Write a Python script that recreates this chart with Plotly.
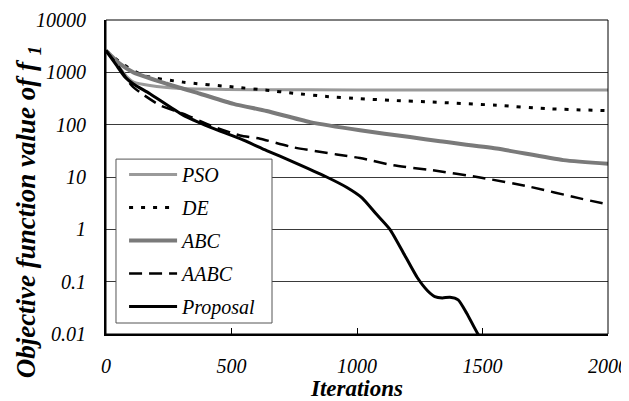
import plotly.graph_objects as go

# ---- data ----
pso_x = [0, 40, 80, 110, 175, 300, 600, 1000, 1500, 2000]
pso_y = [2600, 1500, 850, 650, 560, 490, 465, 462, 460, 460]

de_x = [0, 60, 150, 307, 508, 640, 745, 879, 1012, 1145, 1300, 1556, 1756, 2000]
de_y = [2600, 1500, 870, 650, 525, 455, 400, 346, 314, 290, 270, 235, 202, 185]

abc_x = [0, 56, 109, 242, 375, 508, 640, 813, 1012, 1211, 1331, 1556, 1822, 2000]
abc_y = [2600, 1450, 1000, 605, 390, 250, 182, 112, 78, 58, 48, 35, 21, 18]

aabc_x = [0, 50, 102, 135, 215, 307, 420, 534, 614, 745, 919, 1012, 1145, 1300, 1490, 1689, 1888, 2000]
aabc_y = [2600, 1300, 560, 415, 235, 163, 95, 62, 54, 37, 27, 23, 16.7, 13.5, 9.8, 6.5, 3.9, 3.0]

prop_x = [0, 40, 76, 109, 175, 307, 414, 534, 640, 745, 879, 960, 1020, 1075, 1131, 1190, 1240,
          1280, 1310, 1340, 1370, 1403, 1437, 1482, 1500]
prop_y = [2600, 1400, 810, 600, 390, 152, 90, 54, 32, 19.5, 10, 6.3, 4.0, 2.0, 1.0, 0.32, 0.12,
          0.068, 0.052, 0.049, 0.0505, 0.045, 0.025, 0.01, 0.008]

y_tickvals = [0.01, 0.1, 1, 10, 100, 1000, 10000]
y_ticktext = ["0.01", "0.1", "1", "10", "100", "1000", "10000"]
x_tickvals = [0, 500, 1000, 1500, 2000]
x_ticktext = ["0", "500", "1000", "1500", "2000"]

series = [
    ("PSO", pso_x, pso_y, dict(color="#9a9a9a", width=3, dash="solid")),
    ("DE", de_x, de_y, dict(color="black", width=3, dash="4px,8px")),
    ("ABC", abc_x, abc_y, dict(color="#7a7a7a", width=4, dash="solid")),
    ("AABC", aabc_x, aabc_y, dict(color="black", width=2.5, dash="13px,7px")),
    ("Proposal", prop_x, prop_y, dict(color="black", width=3, dash="solid")),
]

SERIF = "Liberation Serif"

fig = go.Figure()
for name, xs, ys, ln in series:
    fig.add_trace(go.Scatter(
        x=xs, y=ys, mode="lines", name=name, legendgroup=name,
        line=dict(shape="spline", smoothing=0.6, **ln),
    ))

# the page places the figure 8px from the top-left corner, so the size is reduced by 8px
fig.update_layout(
    template="none",
    font=dict(family=SERIF, size=20, color="black"),
    width=621, height=393,
    margin=dict(l=98, r=21, t=12, b=67, autoexpand=False),
    paper_bgcolor="white", plot_bgcolor="white",
    showlegend=True,
    legend=dict(
        x=0.036, y=0.570, xanchor="left", yanchor="top",
        bgcolor="rgba(0,0,0,0)", borderwidth=0,
        font=dict(family=SERIF, size=20, style="italic"),
        itemwidth=48, tracegroupgap=4,
    ),
    xaxis=dict(
        range=[0, 2000], tickmode="array", tickvals=x_tickvals, ticktext=x_ticktext,
        ticks="inside", ticklen=6, tickcolor="black", tickwidth=1,
        showline=True, linecolor="black", linewidth=2,
        showgrid=False, zeroline=False, automargin=False,
        tickfont=dict(family=SERIF, size=20, style="italic"),
        ticklabelstandoff=13,
        title=dict(text="Iterations", standoff=8,
                   font=dict(family=SERIF, size=23, style="italic", weight="bold")),
    ),
    yaxis=dict(
        type="log", range=[-2, 4], tickmode="array", tickvals=y_tickvals, ticktext=y_ticktext,
        ticks="", showline=True, linecolor="black", linewidth=2,
        showgrid=True, gridcolor="#3a3a3a", gridwidth=1, zeroline=False, automargin=False,
        tickfont=dict(family=SERIF, size=20, style="italic"),
        ticklabelstandoff=14,
    ),
    annotations=[dict(
        text="Objective function value of <i>f</i> <sub>1</sub>",
        xref="paper", yref="paper", x=-0.155, y=0.388, textangle=-90,
        showarrow=False, xanchor="center", yanchor="middle",
        font=dict(family=SERIF, size=27, style="italic", weight="bold"),
    )],
    shapes=[
        dict(type="rect", xref="paper", yref="paper", x0=0, y0=0, x1=1, y1=1,
             line=dict(color="black", width=1), layer="above"),
        # legend frame
        dict(type="rect", xref="paper", yref="paper", x0=0.0199, y0=0.035, x1=0.3307, y1=0.557,
             line=dict(color="#555555", width=1), fillcolor="white", layer="above"),
    ],
)

fig.write_html("out.html")
